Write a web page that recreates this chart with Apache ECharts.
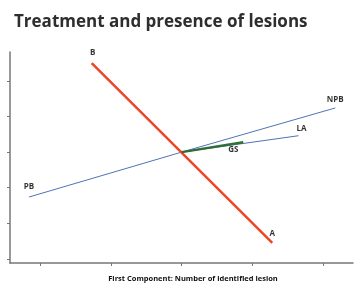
<!DOCTYPE html>
<html>
<head>
<meta charset="utf-8">
<script src="https://cdn.jsdelivr.net/npm/echarts@6/dist/echarts.min.js"></script>
<style>
  html, body { margin: 0; padding: 0; background: #fff; }
  #chart { width: 362px; height: 288px; }
</style>
</head>
<body>
<div id="chart"></div>
<script>
// endpoints of each vector, in axis units
const redPts = [[1.73, 6.5], [4.28, 1.45]];
const bluePts = [[0.845, 2.74], [3, 4], [5.17, 5.24]];
const laPts = [[3, 4], [4.65, 4.46]];
const gsPts = [[3, 4], [3.87, 4.28]];
const labelNames = ["B", "A", "PB", "NPB", "LA", "GS"];
const labelPts = [redPts[0], redPts[1], bluePts[0], bluePts[2], laPts[1], gsPts[1]];
const labelOffsets = [[1, -10], [0, -9], [0, -10], [0, -8], [3, -7], [-10, 8]];
const xTicks = [1, 2, 3, 4, 5];
const yTicks = [1, 2, 3, 4, 5, 6];

const chart = echarts.init(document.getElementById("chart"));

const axisCommon = {
    type: "value",
    axisLine: { show: true, lineStyle: { color: "#777", width: 1.5 } },
    axisLabel: { show: false },
    splitLine: { show: false }
};

chart.setOption({
    animation: false,
    title: {
        text: "Treatment and presence of lesions",
        left: 9,
        top: 9,
        textStyle: {
            fontFamily: "Open Sans",
            fontWeight: "bold",
            fontSize: 17,
            color: "#2e2e2e"
        }
    },
    grid: { left: 10, right: 9, top: 52, bottom: 25, containLabel: false },
    xAxis: Object.assign({}, axisCommon, {
        min: 0.576,
        max: 5.42,
        axisTick: { show: true, length: 3, customValues: xTicks, lineStyle: { color: "#777" } },
        name: "First Component: Number of identified lesion",
        nameLocation: "middle",
        nameGap: 12,
        nameTextStyle: {
            fontFamily: "Open Sans",
            fontWeight: "bold",
            fontSize: 7.5,
            color: "#111",
            padding: [0, 0, 0, 23]
        }
    }),
    yAxis: Object.assign({}, axisCommon, {
        min: 0.888,
        max: 6.81,
        axisTick: { show: true, length: 3, customValues: yTicks, lineStyle: { color: "#777" } }
    }),
    series: [
        {
            type: "line",
            data: bluePts,
            symbol: "none",
            lineStyle: { color: "#4f72b8", width: 1 }
        },
        {
            type: "line",
            data: laPts,
            symbol: "none",
            lineStyle: { color: "#4f72b8", width: 1 }
        },
        {
            type: "line",
            data: redPts,
            symbol: "none",
            lineStyle: { color: "#ee4527", width: 2.5 }
        },
        {
            type: "line",
            data: gsPts,
            symbol: "none",
            lineStyle: { color: "#2f6e34", width: 2.5 }
        },
        {
            type: "scatter",
            symbolSize: 1,
            itemStyle: { color: "transparent" },
            silent: true,
            data: labelPts.map((p, i) => ({
                value: p,
                name: labelNames[i],
                label: { offset: labelOffsets[i] }
            })),
            label: {
                show: true,
                position: "inside",
                formatter: "{b}",
                fontFamily: "Open Sans",
                fontWeight: "bold",
                fontSize: 8,
                color: "#000"
            }
        }
    ]
});
</script>
</body>
</html>
